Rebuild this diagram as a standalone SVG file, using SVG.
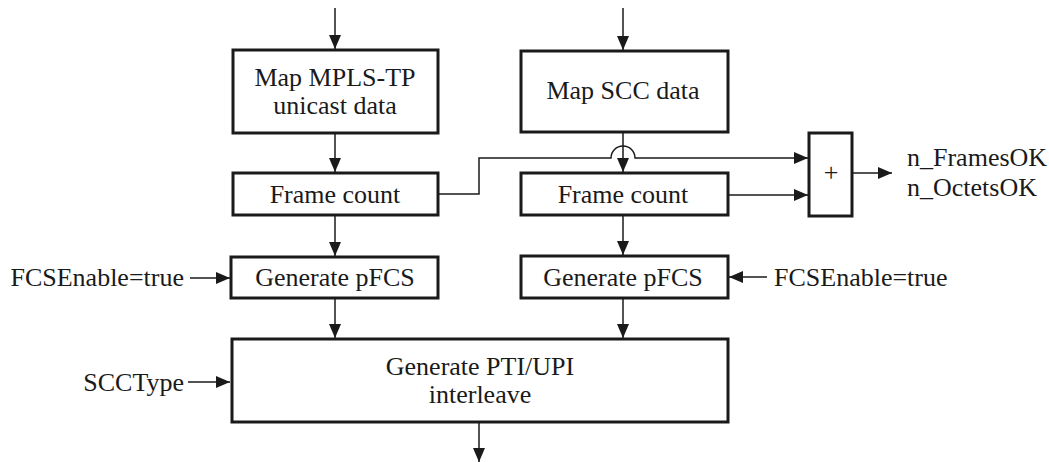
<svg xmlns="http://www.w3.org/2000/svg" width="1049" height="462" viewBox="0 0 1049 462">
<style>
.box{fill:#fff;stroke:#1a1a1a;stroke-width:3}
.t{font-family:"Liberation Serif","Times New Roman",serif;font-size:26px;fill:#1a1a1a}
.c{text-anchor:middle}
.ln{fill:none;stroke:#1a1a1a;stroke-width:1.5}
.ar{marker-end:url(#ah)}
</style>
<defs>
<marker id="ah" markerUnits="userSpaceOnUse" markerWidth="14" markerHeight="14" viewBox="0 0 14 14" refX="14" refY="7" orient="auto">
<path d="M0,1 L14,7 L0,13 Z" fill="#1a1a1a"/>
</marker>
</defs>
<rect width="1049" height="462" fill="#fff"/>
<g id="connectors">
<line class="ln ar" x1="335" y1="8" x2="335" y2="49"/>
<line class="ln ar" x1="623" y1="8" x2="623" y2="50"/>
<line class="ln ar" x1="335" y1="133" x2="335" y2="172"/>
<line class="ln ar" x1="623" y1="132" x2="623" y2="172"/>
<line class="ln ar" x1="335" y1="215" x2="335" y2="256"/>
<line class="ln ar" x1="623" y1="215" x2="623" y2="255"/>
<line class="ln ar" x1="335" y1="298" x2="335" y2="338"/>
<line class="ln ar" x1="623" y1="298" x2="623" y2="338"/>
<line class="ln ar" x1="479" y1="422" x2="479" y2="462"/>
<path class="ln ar" d="M438,194 H479 V158 H611 A12,12 0 0 1 635,158 H808"/>
<line class="ln ar" x1="728" y1="195" x2="808" y2="195"/>
<line class="ln ar" x1="852" y1="173" x2="892" y2="173"/>
<line class="ln ar" x1="190" y1="278" x2="230" y2="278"/>
<line class="ln ar" x1="767" y1="277" x2="729" y2="277"/>
<line class="ln ar" x1="188" y1="382" x2="230" y2="382"/>
</g>
<g id="map-mpls">
<rect class="box" x="233" y="50" width="205" height="83"/>
<text class="t c" x="335" y="86">Map MPLS-TP</text>
<text class="t c" x="335" y="114">unicast data</text>
</g>
<g id="map-scc">
<rect class="box" x="521" y="51" width="207" height="81"/>
<text class="t c" x="623" y="99">Map SCC data</text>
</g>
<g id="frame-count-left">
<rect class="box" x="233" y="173" width="205" height="42"/>
<text class="t c" x="335" y="203">Frame count</text>
</g>
<g id="frame-count-right">
<rect class="box" x="521" y="173" width="207" height="42"/>
<text class="t c" x="623" y="203">Frame count</text>
</g>
<g id="plus">
<rect class="box" x="809" y="133" width="43" height="83"/>
<text class="t c" x="831" y="181">+</text>
</g>
<g id="outputs">
<text class="t" x="907" y="166">n_FramesOK</text>
<text class="t" x="907" y="196">n_OctetsOK</text>
</g>
<g id="gen-pfcs-left">
<rect class="box" x="231" y="257" width="207" height="41"/>
<text class="t c" x="335" y="286">Generate pFCS</text>
</g>
<g id="gen-pfcs-right">
<rect class="box" x="521" y="256" width="207" height="42"/>
<text class="t c" x="623" y="286">Generate pFCS</text>
</g>
<g id="fcs-left">
<text class="t" x="184" y="286" text-anchor="end">FCSEnable=true</text>
</g>
<g id="fcs-right">
<text class="t" x="774" y="286">FCSEnable=true</text>
</g>
<g id="scctype">
<text class="t" x="184" y="391" text-anchor="end">SCCType</text>
</g>
<g id="gen-pti">
<rect class="box" x="232" y="339" width="496" height="83"/>
<text class="t c" x="480" y="375">Generate PTI/UPI</text>
<text class="t c" x="480" y="403">interleave</text>
</g>
</svg>
